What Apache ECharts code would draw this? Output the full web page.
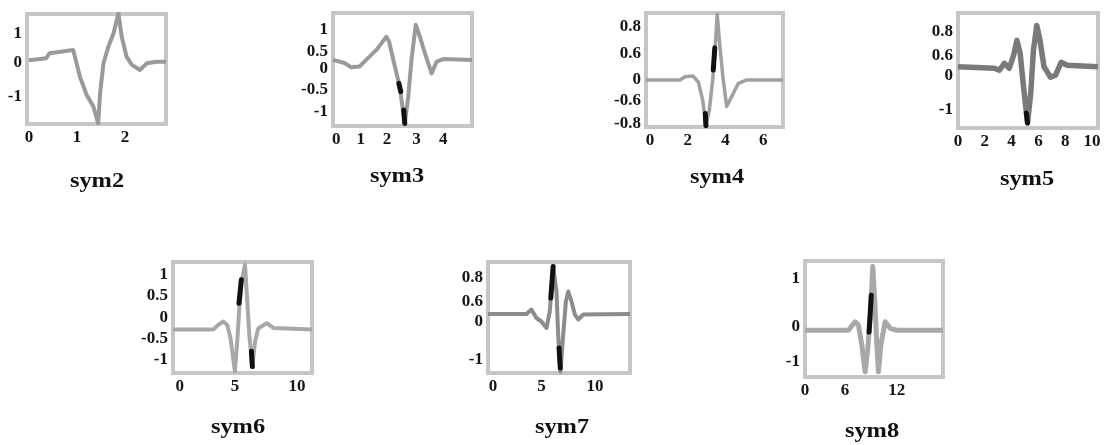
<!DOCTYPE html>
<html>
<head>
    <meta charset="utf-8">
    <title>sym wavelets</title>
    <script src="https://cdn.jsdelivr.net/npm/echarts@6/dist/echarts.min.js"></script>
    <style>
        html, body { margin: 0; padding: 0; background: #fff; }
        #main { width: 1113px; height: 445px; }
    </style>
</head>
<body>
<div id="main"></div>
<script>
    // values (axis units of each panel)
    var names = ['sym2', 'sym3', 'sym4', 'sym5', 'sym6', 'sym7', 'sym8'];

    var sym2X = [0, 0.36, 0.4, 0.43, 0.92, 0.96, 1.06, 1.2, 1.34, 1.44, 1.48, 1.55, 1.65, 1.76, 1.86, 1.93, 2.03, 2.14, 2.31, 2.45, 2.66, 2.85];
    var sym2Y = [0.08, 0.14, 0.19, 0.3, 0.4, 0.35, -0.44, -1.02, -1.39, -1.92, -0.97, -0.02, 0.5, 0.93, 1.56, 0.82, 0.19, -0.07, -0.23, -0.02, 0.03, 0.03];
    var sym3X = [-0.12, 0.31, 0.56, 0.87, 1.12, 1.5, 1.87, 1.97, 2.19, 2.37, 2.56, 2.69, 2.81, 2.97, 3.12, 3.31, 3.56, 3.75, 4.0, 5.07];
    var sym3Y = [0.19, 0.12, 0.02, 0.04, 0.19, 0.42, 0.72, 0.62, 0.04, -0.42, -1.27, -0.65, 0.19, 1.0, 0.73, 0.35, -0.12, 0.15, 0.21, 0.19];
    var sym4X = [-0.21, 1.59, 1.85, 2.29, 2.56, 2.79, 2.96, 3.14, 3.32, 3.44, 3.56, 3.7, 3.88, 4.06, 4.32, 4.67, 5.1, 7.04];
    var sym4Y = [0, 0, 0.05, 0.06, -0.03, -0.3, -0.68, -0.45, 0, 0.45, 0.98, 0.5, 0, -0.39, -0.25, -0.05, 0, 0];
    var sym5X = [0, 2.72, 3.09, 3.46, 3.83, 4.15, 4.4, 4.64, 4.89, 5.19, 5.43, 5.63, 5.88, 6.12, 6.42, 6.91, 7.28, 7.7, 8.15, 10.45];
    var sym5Y = [0, -0.03, -0.07, 0.07, -0.03, 0.23, 0.53, 0.27, -0.4, -1.13, -0.53, 0.33, 0.83, 0.53, 0, -0.21, -0.17, 0.09, 0.03, 0];
    var sym6X = [-0.57, 2.86, 3.29, 3.71, 4.06, 4.34, 4.71, 4.91, 5.09, 5.29, 5.57, 5.77, 5.94, 6.2, 6.43, 6.71, 7.43, 8.0, 11.29];
    var sym6Y = [-0.29, -0.29, -0.18, -0.1, -0.18, -0.49, -1.27, -0.57, 0.22, 0.84, 1.24, 0.37, -0.41, -1.16, -0.57, -0.26, -0.14, -0.25, -0.29];
    var sym7X = [-0.49, 3.28, 3.77, 4.26, 4.75, 5.25, 5.57, 5.9, 6.23, 6.39, 6.62, 6.89, 7.15, 7.38, 7.7, 8.03, 8.36, 8.85, 13.44];
    var sym7Y = [0, 0, 0.09, -0.08, -0.15, -0.28, 0.05, 0.95, 0.45, -0.41, -1.15, -0.41, 0.25, 0.45, 0.25, -0.01, -0.11, -0.01, 0];
    var sym8X = [0, 5.58, 6.44, 6.87, 7.3, 7.73, 8.03, 8.37, 8.71, 9.01, 9.23, 9.44, 9.74, 10.3, 10.94, 11.8, 17.73];
    var sym8Y = [0, 0, 0.18, 0.11, -0.32, -0.89, -0.46, 0.25, 1.36, 0.46, -0.32, -0.89, -0.32, 0.18, 0.04, 0, 0];

    // darker (over-inked) stretches of the scan, null = gap
    var darkX = [[], [2.34, 2.41, null, 2.52, 2.56], [3.35, 3.43, null, 2.93, 2.96], [5.1, 5.19],
                 [5.06, 5.26, null, 6.12, 6.2], [5.67, 5.9, null, 6.48, 6.6], [8.23, 8.52]];
    var darkY = [[], [-0.35, -0.54, null, -0.96, -1.27], [0.15, 0.48, null, -0.5, -0.68], [-0.93, -1.13],
                 [0.33, 0.88, null, -0.8, -1.16], [0.32, 0.95, null, -0.68, -1.08], [-0.04, 0.75]];

    // axis extents
    var xMin = [-0.04, -0.12, -0.21, 0, -0.57, -0.49, 0];
    var xMax = [2.85, 5.07, 7.04, 10.45, 11.29, 13.44, 17.73];
    var yMin = [-1.94, -1.33, -0.7, -1.23, -1.31, -1.18, -1.0];
    var yMax = [1.54, 1.27, 1.0, 1.08, 1.3, 1.04, 1.48];

    // tick positions and their printed labels
    var xTickPos = [[0, 1, 2], [0, 0.92, 1.9, 3, 4], [0, 2, 4, 6], [0, 2, 4, 6, 8, 10], [0, 4.71, 10], [0, 4.75, 10], [0, 5.15, 11.8]];
    var xTickText = [['0', '1', '2'], ['0', '1', '2', '3', '4'], ['0', '2', '4', '6'], ['0', '2', '4', '6', '8', '10'],
                     ['0', '5', '10'], ['0', '5', '10'], ['0', '6', '12']];
    var yTickPos = [[0.93, 0, -1.07], [0.88, 0.38, 0, -0.5, -1.0], [0.8, 0.4, 0, -0.3, -0.65], [0.7, 0.23, -0.17, -0.87],
                    [1, 0.5, 0, -0.5, -1], [0.72, 0.25, -0.15, -0.91], [1.11, 0.07, -0.68]];
    var yTickText = [['1', '0', '-1'], ['1', '0.5', '0', '-0.5', '-1'], ['0.8', '0.6', '0', '-0.6', '-0.8'],
                     ['0.8', '0.6', '0', '-1'], ['1', '0.5', '0', '-0.5', '-1'], ['0.8', '0.6', '0', '-1'], ['1', '0', '-1']];

    var xs = [sym2X, sym3X, sym4X, sym5X, sym6X, sym7X, sym8X];
    var ys = [sym2Y, sym3Y, sym4Y, sym5Y, sym6Y, sym7Y, sym8Y];

    // layout: [left, top, width, height] of each frame, title centres
    var boxes = [[27, 14, 139, 110], [333, 13, 139, 113], [646, 13, 137, 114], [958, 13, 140, 115],
                 [173, 262, 139, 111], [488, 262, 142, 111], [805, 261, 138, 116]];
    var titlePos = [[97, 182], [397, 177], [717, 178], [1027, 180], [238, 428], [562, 428], [872, 432]];
    var lineColor = ['#999', '#9a9a9a', '#a0a0a0', '#7a7a7a', '#a8a8a8', '#8c8c8c', '#a8a8a8'];
    var lineWidth = [4, 4, 3.5, 5.5, 4, 4, 5];

    var font = '"Liberation Serif", "Times New Roman", serif';

    function pick(pos, text) {
        return function (v) {
            var best = 0;
            for (var k = 1; k < pos.length; k++) {
                if (Math.abs(pos[k] - v) < Math.abs(pos[best] - v)) best = k;
            }
            return text[best];
        };
    }

    function pairs(a, b) {
        var out = [];
        for (var k = 0; k < a.length; k++) {
            out.push(a[k] === null ? ['-', '-'] : [a[k], b[k]]);
        }
        return out;
    }

    var grid = [], xAxis = [], yAxis = [], series = [], graphic = [];
    names.forEach(function (name, i) {
        var b = boxes[i];
        grid.push({
            left: b[0], top: b[1], width: b[2], height: b[3],
            show: true, borderColor: '#c6c6c6', borderWidth: 4, backgroundColor: '#fff'
        });
        var labelStyle = {
            fontFamily: font, fontWeight: 'bold', fontSize: 17, color: '#151515', margin: 5
        };
        xAxis.push({
            gridIndex: i, type: 'value', min: xMin[i], max: xMax[i],
            axisLine: { show: false, onZero: false }, axisTick: { show: false }, splitLine: { show: false },
            axisLabel: Object.assign({ customValues: xTickPos[i], formatter: pick(xTickPos[i], xTickText[i]) }, labelStyle)
        });
        yAxis.push({
            gridIndex: i, type: 'value', min: yMin[i], max: yMax[i],
            axisLine: { show: false, onZero: false }, axisTick: { show: false }, splitLine: { show: false },
            axisLabel: Object.assign({ customValues: yTickPos[i], formatter: pick(yTickPos[i], yTickText[i]) }, labelStyle)
        });
        series.push({
            name: name, type: 'line', xAxisIndex: i, yAxisIndex: i,
            data: pairs(xs[i], ys[i]), symbol: 'none', silent: true,
            lineStyle: { color: lineColor[i], width: lineWidth[i], join: 'round' }
        });
        if (darkX[i].length) {
            series.push({
                name: name + ' dark', type: 'line', xAxisIndex: i, yAxisIndex: i,
                data: pairs(darkX[i], darkY[i]), symbol: 'none', silent: true,
                lineStyle: { color: '#111', width: 5, cap: 'round' }
            });
        }
        graphic.push({
            type: 'text', x: titlePos[i][0], y: titlePos[i][1], scaleX: 1.22,
            style: {
                text: name, fill: '#111', font: 'bold 20px ' + font,
                textAlign: 'center', textVerticalAlign: 'middle'
            }
        });
    });

    var chart = echarts.init(document.getElementById('main'));
    chart.setOption({
        animation: false,
        backgroundColor: '#fff',
        grid: grid,
        xAxis: xAxis,
        yAxis: yAxis,
        series: series,
        graphic: graphic
    });
</script>
</body>
</html>
